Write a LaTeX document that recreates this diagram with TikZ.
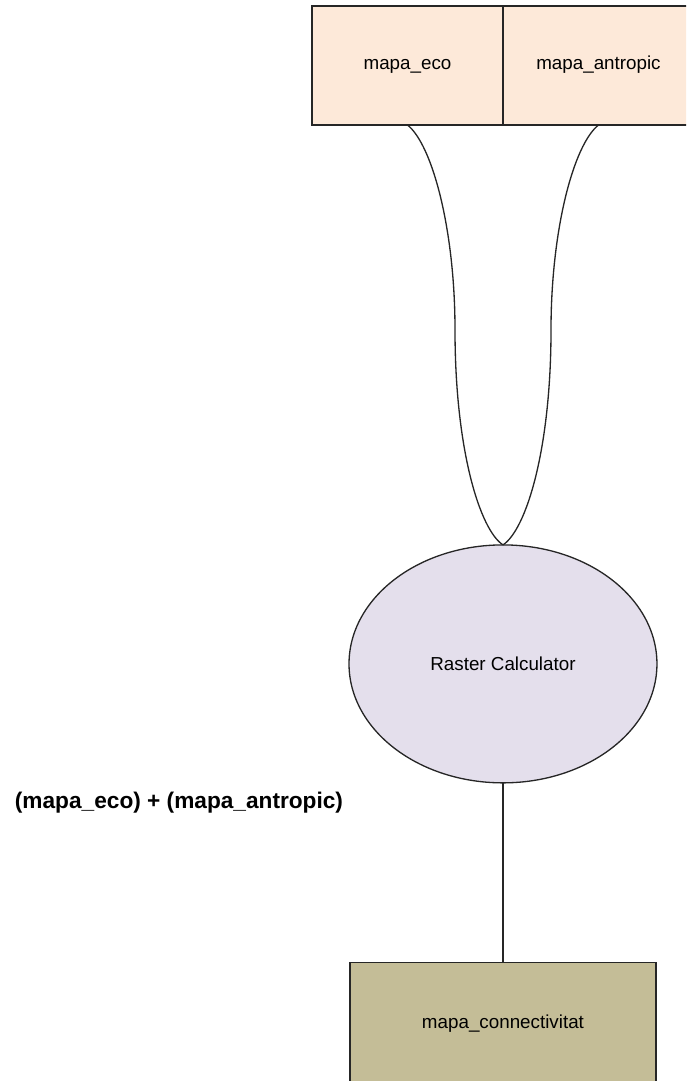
\documentclass[tikz,border=0pt]{standalone}
\usepackage{fontspec}
\setmainfont{Liberation Sans}
\usetikzlibrary{shapes}
\usetikzlibrary{positioning}
\definecolor{peach}{HTML}{FDE9D9}
\definecolor{lilac}{HTML}{E4DFEC}
\definecolor{olive}{HTML}{C4BD97}
\tikzset{
    cell/.style = {rectangle, line width=0.75pt, draw=black!85, minimum width=3.82cm, minimum height=2.38cm, outer sep=0pt, fill=peach, text height=0.75em, text depth=0.25em, font=\fontsize{10.7}{13}\selectfont},
    mynodel/.style = {ellipse, line width=0.75pt, draw=black!85, minimum width=6.16cm, minimum height=4.76cm, outer sep=0pt, fill=lilac, font=\fontsize{10.7}{13}\selectfont},
    mynodeo/.style = {rectangle, line width=0.75pt, draw=black!85, minimum width=6.12cm, minimum height=2.44cm, outer sep=0pt, fill=olive, font=\fontsize{10.7}{13}\selectfont},
    edgen/.style = {line width=0.75pt, draw=black!85},
    formula/.style = {font=\fontsize{12.9}{15}\selectfont\bfseries}
}
\begin{document}
\begin{tikzpicture}[x=0.02cm, y=-0.02cm]
  \useasboundingbox (0,0) rectangle (686,1081);
  \clip (0,0) rectangle (686,1081);

  \node[cell] (eco) at (407.5,65.5) {mapa\_eco};
  \node[cell, right=0pt of eco] (antropic) {mapa\_antropic};
  \node[mynodel, below=8.4cm of eco.south east] (calc) {Raster Calculator};
  \node[mynodeo, below=3.6cm of calc] (connect) {mapa\_connectivitat};
  \node[formula] (expr) at (179,803) {(mapa\_eco) + (mapa\_antropic)};

  \coordinate (lmid) at (455,330);
  \coordinate (rmid) at (551,330);

  \draw[edgen] (eco.south) .. controls +(25,20) and +(0,-100) .. (lmid)
               .. controls +(0,120) and +(-23,-15) .. (calc.north);
  \draw[edgen] (antropic.south) .. controls +(-25,20) and +(0,-100) .. (rmid)
               .. controls +(0,120) and +(23,-15) .. (calc.north);
  \draw[edgen] (calc.south) -- (connect.north);

\end{tikzpicture}
\end{document}
